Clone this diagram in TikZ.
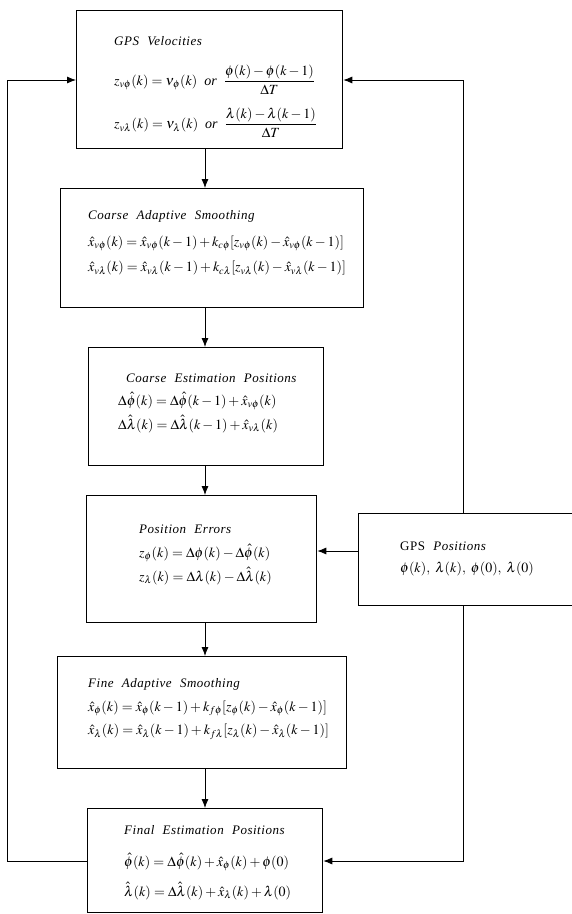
\documentclass[tikz,border=0pt]{standalone}
\usepackage{mathptmx}
\usepackage[no-math]{fontspec}
\setmainfont{Liberation Serif}
\newfontfamily\ttlfont[LetterSpace=4,WordSpace=2.2]{Liberation Serif}
\usetikzlibrary{arrows.meta}
\tikzset{
  box/.style={draw, line width=1.3pt, rectangle, inner sep=0pt, anchor=north west},
  ttl/.style={inner sep=0pt, anchor=base west, font=\fontsize{13}{15}\selectfont\ttlfont\itshape},
  eqn/.style={inner sep=0pt, anchor=west, font=\fontsize{14}{16}\selectfont},
  arr/.style={line width=0.8pt, -{Latex[length=9pt,width=7pt]}}
}
\begin{document}
\begin{tikzpicture}[x=1pt,y=-1pt]
\useasboundingbox (0,0) rectangle (572,914);
% boxes
\node[box, minimum width=266pt, minimum height=138pt] (b1) at (76,10) {};
\node[box, minimum width=303pt, minimum height=119pt] (b2) at (60,188) {};
\node[box, minimum width=235pt, minimum height=118pt] (b3) at (88,347) {};
\node[box, minimum width=230pt, minimum height=127pt] (b4) at (86,495) {};
\node[box, minimum width=222pt, minimum height=92pt] (gps) at (358,513) {};
\node[box, minimum width=289pt, minimum height=112pt] (b5) at (57,656) {};
\node[box, minimum width=235pt, minimum height=104pt] (b6) at (87,808) {};
% texts
\node[ttl] (t1) at (114,45) {GPS Velocities};
\node[eqn] (e11) at (114,80) {$\displaystyle z_{v\phi}(k)=\nu_\phi(k)\ \ \textit{or}\ \ \frac{\phi(k)-\phi(k-1)}{\Delta T}$};
\node[eqn] (e12) at (114,123) {$\displaystyle z_{v\lambda}(k)=\nu_\lambda(k)\ \ \textit{or}\ \ \frac{\lambda(k)-\lambda(k-1)}{\Delta T}$};
\node[ttl] (t2) at (88,219) {Coarse Adaptive Smoothing};
\node[eqn] (e21) at (88,243) {$\hat x_{v\phi}(k)=\hat x_{v\phi}(k-1)+k_{c\phi}[z_{v\phi}(k)-\hat x_{v\phi}(k-1)]$};
\node[eqn] (e22) at (88,268) {$\hat x_{v\lambda}(k)=\hat x_{v\lambda}(k-1)+k_{c\lambda}[z_{v\lambda}(k)-\hat x_{v\lambda}(k-1)]$};
\node[ttl] (t3) at (126,382) {Coarse Estimation Positions};
\node[eqn] (e31) at (118,401) {$\Delta\hat\phi(k)=\Delta\hat\phi(k-1)+\hat x_{v\phi}(k)$};
\node[eqn] (e32) at (118,424) {$\Delta\hat\lambda(k)=\Delta\hat\lambda(k-1)+\hat x_{v\lambda}(k)$};
\node[ttl] (t4) at (139,533) {Position Errors};
\node[eqn] (e41) at (139,553) {$z_\phi(k)=\Delta\phi(k)-\Delta\hat\phi(k)$};
\node[eqn] (e42) at (139,576) {$z_\lambda(k)=\Delta\lambda(k)-\Delta\hat\lambda(k)$};
\node[ttl] (tg) at (400,550) {\upshape GPS \itshape Positions};
\node[eqn] (eg) at (400,569) {$\phi(k),\ \lambda(k),\ \phi(0),\ \lambda(0)$};
\node[ttl] (t5) at (88,687) {Fine Adaptive Smoothing};
\node[eqn] (e51) at (88,708) {$\hat x_\phi(k)=\hat x_\phi(k-1)+k_{f\phi}[z_\phi(k)-\hat x_\phi(k-1)]$};
\node[eqn] (e52) at (88,732) {$\hat x_\lambda(k)=\hat x_\lambda(k-1)+k_{f\lambda}[z_\lambda(k)-\hat x_\lambda(k-1)]$};
\node[ttl] (t6) at (124,834) {Final Estimation Positions};
\node[eqn] (e61) at (124,862) {$\hat\phi(k)=\Delta\hat\phi(k)+\hat x_\phi(k)+\phi(0)$};
\node[eqn] (e62) at (124,891) {$\hat\lambda(k)=\Delta\hat\lambda(k)+\hat x_\lambda(k)+\lambda(0)$};
% helper coordinates
\coordinate (ax) at (205,0);
\coordinate (L1) at (7,861);
\coordinate (L2) at (7,80);
\coordinate (R1) at (463,80);
\coordinate (R2) at (463,861);
\coordinate (ay) at (0,551);
% main flow
\draw[arr] (b1.south -| ax) -- (b2.north -| ax);
\draw[arr] (b2.south -| ax) -- (b3.north -| ax);
\draw[arr] (b3.south -| ax) -- (b4.north -| ax);
\draw[arr] (b4.south -| ax) -- (b5.north -| ax);
\draw[arr] (b5.south -| ax) -- (b6.north -| ax);
\draw[arr] (gps.west |- ay) -- (b4.east |- ay);
% feedback loops
\draw[arr] (b6.west |- L1) -- (L1) -- (L2) -- (b1.west |- L2);
\draw[arr] (gps.north -| R1) -- (R1) -- (b1.east |- R1);
\draw[arr] (gps.south -| R1) -- (R2) -- (b6.east |- R2);
\end{tikzpicture}
\end{document}
